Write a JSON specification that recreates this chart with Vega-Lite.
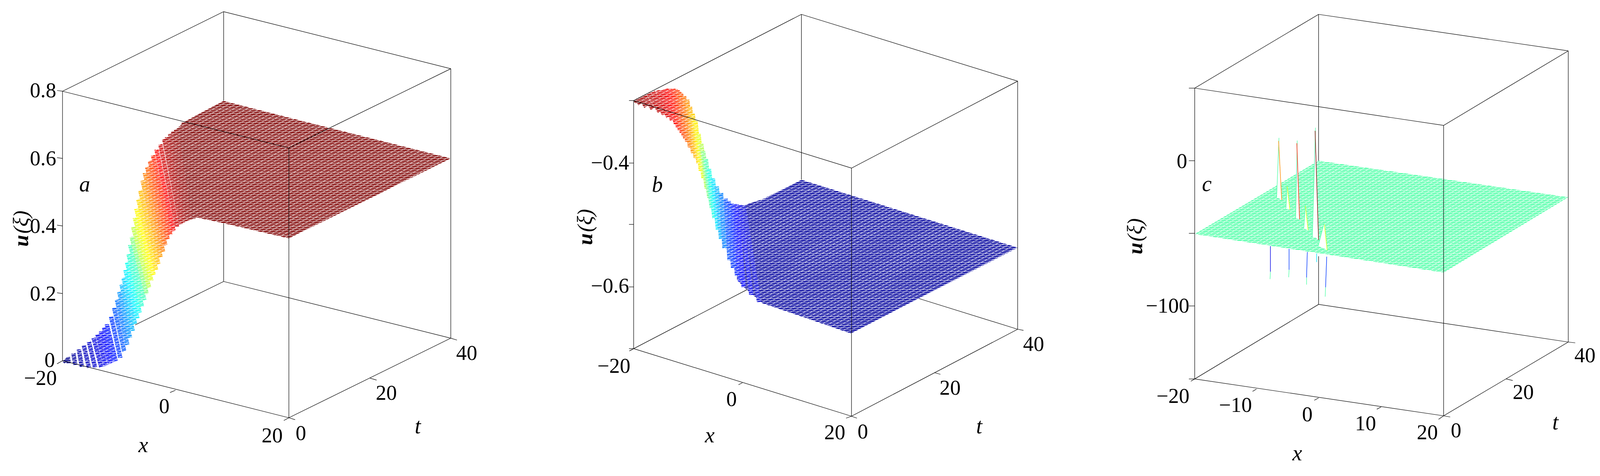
{
"$schema":"https://vega.github.io/schema/vega-lite/v6.json",
"width":4130,"height":1218,"padding":0,
"autosize":{"type":"none"},
"background":"white",
"config":{"view":{"stroke":null}},
"datasets":{
"sheets":[
{"id":"a","h":455,"v":332,"v2":520,"z":1},{"id":"a","h":473,"v":315,"v2":555,"z":1},{"id":"a","h":530,"v":284,"v2":565,"z":1},{"id":"a","h":576,"v":260,"v2":575,"z":1},{"id":"a","h":744,"v":303,"v2":614,"z":1},{"id":"a","h":1161,"v":408,"v2":408,"z":1},
{"id":"b","h":1898,"v":527,"v2":720,"z":0.03},{"id":"b","h":1915,"v":529,"v2":739,"z":0.03},{"id":"b","h":1964,"v":513,"v2":781,"z":0.03},{"id":"b","h":2064,"v":463,"v2":815,"z":0.03},{"id":"b","h":2192,"v":503,"v2":859,"z":0.03},{"id":"b","h":2621,"v":638,"v2":638,"z":0.03},
{"id":"c","h":3077,"v":603,"v2":603,"z":0.458},{"id":"c","h":3396,"v":414,"v2":652,"z":0.458},{"id":"c","h":3718,"v":461,"v2":702,"z":0.458},{"id":"c","h":4039,"v":508,"v2":508,"z":0.458}
],
"levels":[
{"h":165,"v":927,"h2":170,"v2":933,"z":0},{"h":175,"v":920,"h2":177,"v2":936,"z":0.015},{"h":189,"v":910,"h2":194,"v2":940,"z":0.03},{"h":203,"v":900,"h2":211,"v2":945,"z":0.045},{"h":216,"v":890,"h2":229,"v2":947,"z":0.06},{"h":229,"v":880,"h2":245,"v2":947,"z":0.075},{"h":241,"v":870,"h2":261,"v2":946,"z":0.09},{"h":251,"v":861,"h2":272,"v2":942,"z":0.105},{"h":260,"v":853,"h2":283,"v2":937,"z":0.12},{"h":268,"v":844,"h2":291,"v2":933,"z":0.135},{"h":275,"v":835,"h2":298,"v2":930,"z":0.15},{"h":286,"v":815,"h2":310,"v2":922,"z":0.18},{"h":294,"v":793,"h2":320,"v2":905,"z":0.21},{"h":301,"v":772,"h2":328,"v2":888,"z":0.24},{"h":307,"v":752,"h2":335,"v2":870,"z":0.27},{"h":313,"v":733,"h2":342,"v2":852,"z":0.3},{"h":318,"v":716,"h2":348,"v2":835,"z":0.33},{"h":323,"v":695,"h2":354,"v2":820,"z":0.36},{"h":327,"v":675,"h2":360,"v2":805,"z":0.39},{"h":331,"v":655,"h2":366,"v2":790,"z":0.42},{"h":335,"v":630,"h2":372,"v2":773,"z":0.44},{"h":339,"v":610,"h2":378,"v2":757,"z":0.5},{"h":343,"v":585,"h2":384,"v2":740,"z":0.56},{"h":347,"v":560,"h2":390,"v2":723,"z":0.6},{"h":351,"v":537,"h2":396,"v2":708,"z":0.63},{"h":356,"v":513,"h2":402,"v2":695,"z":0.66},{"h":361,"v":490,"h2":408,"v2":680,"z":0.69},{"h":367,"v":465,"h2":414,"v2":663,"z":0.72},{"h":373,"v":445,"h2":420,"v2":648,"z":0.75},{"h":379,"v":430,"h2":426,"v2":632,"z":0.78},{"h":386,"v":415,"h2":432,"v2":617,"z":0.81},{"h":394,"v":400,"h2":439,"v2":605,"z":0.84},{"h":403,"v":385,"h2":447,"v2":595,"z":0.88},{"h":413,"v":372,"h2":456,"v2":584,"z":0.92},{"h":423,"v":358,"h2":466,"v2":577,"z":0.95},{"h":430,"v":352,"h2":472,"v2":573,"z":0.96},{"h":438,"v":345,"h2":478,"v2":570,"z":0.97},{"h":446,"v":339,"h2":483,"v2":568,"z":0.98},{"h":453,"v":333,"h2":488,"v2":566,"z":0.985},{"h":473,"v":315,"h2":498,"v2":564,"z":1},
{"h":1636,"v":258,"h2":1642,"v2":263,"z":1},{"h":1640,"v":255,"h2":1649,"v2":268,"z":0.985},{"h":1649,"v":250,"h2":1664,"v2":275,"z":0.97},{"h":1659,"v":245,"h2":1681,"v2":281,"z":0.955},{"h":1670,"v":240,"h2":1699,"v2":288,"z":0.94},{"h":1682,"v":236,"h2":1710,"v2":295,"z":0.925},{"h":1694,"v":233,"h2":1721,"v2":302,"z":0.91},{"h":1705,"v":231,"h2":1731,"v2":310,"z":0.895},{"h":1716,"v":229,"h2":1741,"v2":319,"z":0.88},{"h":1725,"v":229,"h2":1746,"v2":327,"z":0.865},{"h":1734,"v":229,"h2":1751,"v2":335,"z":0.85},{"h":1740,"v":230,"h2":1756,"v2":342,"z":0.835},{"h":1745,"v":232,"h2":1761,"v2":350,"z":0.82},{"h":1749,"v":236,"h2":1765,"v2":357,"z":0.805},{"h":1754,"v":240,"h2":1770,"v2":365,"z":0.79},{"h":1762,"v":248,"h2":1777,"v2":380,"z":0.76},{"h":1770,"v":257,"h2":1785,"v2":395,"z":0.73},{"h":1777,"v":275,"h2":1792,"v2":408,"z":0.7},{"h":1784,"v":293,"h2":1799,"v2":420,"z":0.67},{"h":1791,"v":311,"h2":1805,"v2":440,"z":0.64},{"h":1799,"v":345,"h2":1812,"v2":460,"z":0.6},{"h":1806,"v":370,"h2":1820,"v2":485,"z":0.55},{"h":1811,"v":389,"h2":1827,"v2":510,"z":0.5},{"h":1818,"v":410,"h2":1833,"v2":535,"z":0.45},{"h":1826,"v":435,"h2":1840,"v2":562,"z":0.4},{"h":1836,"v":459,"h2":1849,"v2":591,"z":0.35},{"h":1846,"v":480,"h2":1857,"v2":615,"z":0.3},{"h":1857,"v":497,"h2":1866,"v2":640,"z":0.25},{"h":1869,"v":512,"h2":1879,"v2":670,"z":0.2},{"h":1877,"v":518,"h2":1888,"v2":690,"z":0.18},{"h":1885,"v":525,"h2":1898,"v2":710,"z":0.16},{"h":1892,"v":526,"h2":1906,"v2":725,"z":0.14},{"h":1898,"v":527,"h2":1915,"v2":739,"z":0.12},{"h":1906,"v":528,"h2":1935,"v2":760,"z":0.1},{"h":1915,"v":529,"h2":1955,"v2":778,"z":0.08}
],
"meshFlat":[
{"h":655,"v":0,"h2":655,"v2":1218},{"h":2130,"v":0,"h2":2130,"v2":1218},{"h":3560,"v":0,"h2":3560,"v2":1218}
],
"meshSlant":[
{"h":397,"v":106,"h2":923,"v2":1094},{"h":1872,"v":63,"h2":2388,"v2":1057},{"h":3274,"v":78,"h2":3846,"v2":1042}
],
"notches":[
{"id":"p1","h":3288,"v":508,"v2":508},{"id":"p1","h":3294,"v":355,"v2":511},{"id":"p1","h":3301,"v":515,"v2":515},
{"id":"p2","h":3337,"v":562,"v2":562},{"id":"p2","h":3341,"v":362,"v2":563},{"id":"p2","h":3347,"v":565,"v2":565},
{"id":"p3","h":3380,"v":610,"v2":610},{"id":"p3","h":3388,"v":329,"v2":612},{"id":"p3","h":3396,"v":618,"v2":618},
{"id":"p4","h":3312,"v":537,"v2":537},{"id":"p4","h":3315,"v":477,"v2":538},{"id":"p4","h":3322,"v":540,"v2":540},
{"id":"p5","h":3358,"v":587,"v2":587},{"id":"p5","h":3362,"v":528,"v2":590},{"id":"p5","h":3369,"v":593,"v2":593},
{"id":"p6","h":3395,"v":634,"v2":634},{"id":"p6","h":3410,"v":575,"v2":640},{"id":"p6","h":3418,"v":645,"v2":645}
],
"spikes":[
{"h":3294,"v":355,"h2":3288,"v2":508,"z":0.458},{"h":3293,"v":363,"h2":3301,"v2":515,"z":0.74},
{"h":3341,"v":362,"h2":3337,"v2":562,"z":0.458},{"h":3340,"v":369,"h2":3347,"v2":565,"z":0.85},
{"h":3388,"v":329,"h2":3380,"v2":610,"z":0.458},{"h":3387,"v":337,"h2":3396,"v2":618,"z":1},
{"h":3315,"v":477,"h2":3312,"v2":537,"z":0.458},{"h":3315,"v":480,"h2":3322,"v2":540,"z":0.6},
{"h":3362,"v":528,"h2":3358,"v2":587,"z":0.458},{"h":3362,"v":530,"h2":3369,"v2":593,"z":0.6},
{"h":3410,"v":575,"h2":3395,"v2":634,"z":0.458},{"h":3411,"v":578,"h2":3418,"v2":645,"z":0.6},
{"h":3272,"v":634,"h2":3272,"v2":700,"z":0.1},{"h":3272,"v":700,"h2":3271,"v2":719,"z":0.458},
{"h":3320,"v":641,"h2":3320,"v2":695,"z":0.18},{"h":3320,"v":695,"h2":3319,"v2":714,"z":0.458},
{"h":3367,"v":649,"h2":3365,"v2":715,"z":0.18},{"h":3365,"v":715,"h2":3365,"v2":733,"z":0.458},
{"h":3391,"v":653,"h2":3391,"v2":675,"z":0.35},
{"h":3417,"v":661,"h2":3414,"v2":740,"z":0.18},{"h":3414,"v":740,"h2":3413,"v2":764,"z":0.458}
],
"frame":[
{"h":161,"v":235,"h2":161,"v2":929},{"h":576,"v":30,"h2":576,"v2":260},{"h":576,"v":575,"h2":576,"v2":725},{"h":1161,"v":177,"h2":1161,"v2":871},{"h":744,"v":381,"h2":744,"v2":1076},
{"h":161,"v":235,"h2":576,"v2":30},{"h":576,"v":30,"h2":1161,"v2":177},{"h":1161,"v":177,"h2":744,"v2":381},{"h":744,"v":381,"h2":161,"v2":235},
{"h":348,"v":837,"h2":576,"v2":725},{"h":576,"v":725,"h2":1161,"v2":871},{"h":1161,"v":871,"h2":744,"v2":1076},{"h":744,"v":1076,"h2":161,"v2":929},
{"h":147,"v":233,"h2":161,"v2":235},{"h":147,"v":406,"h2":161,"v2":408},{"h":147,"v":580,"h2":161,"v2":582},{"h":147,"v":754,"h2":161,"v2":756},{"h":147,"v":937,"h2":161,"v2":929},{"h":438,"v":1011,"h2":452,"v2":1005},{"h":731,"v":1083,"h2":744,"v2":1076},{"h":744,"v":1076,"h2":760,"v2":1081},{"h":953,"v":974,"h2":970,"v2":979},{"h":1161,"v":871,"h2":1177,"v2":876},
{"h":1632,"v":259,"h2":1632,"v2":898},{"h":2064,"v":37,"h2":2064,"v2":463},{"h":2621,"v":209,"h2":2621,"v2":848},{"h":2193,"v":433,"h2":2193,"v2":1072},
{"h":1632,"v":259,"h2":2064,"v2":37},{"h":2064,"v":37,"h2":2621,"v2":209},{"h":2621,"v":209,"h2":2193,"v2":433},{"h":2193,"v":433,"h2":1632,"v2":259},
{"h":1632,"v":898,"h2":1924,"v2":746},{"h":2367,"v":769,"h2":2621,"v2":848},{"h":2621,"v":848,"h2":2193,"v2":1072},{"h":2193,"v":1072,"h2":1632,"v2":898},
{"h":1620,"v":259,"h2":1632,"v2":259},{"h":1620,"v":420,"h2":1632,"v2":420},{"h":1620,"v":578,"h2":1632,"v2":578},{"h":1620,"v":739,"h2":1632,"v2":739},{"h":1620,"v":898,"h2":1632,"v2":898},{"h":1621,"v":904,"h2":1632,"v2":898},{"h":1902,"v":991,"h2":1912,"v2":986},{"h":2179,"v":1077,"h2":2193,"v2":1072},{"h":2193,"v":1072,"h2":2207,"v2":1077},{"h":2407,"v":960,"h2":2422,"v2":964},{"h":2621,"v":848,"h2":2636,"v2":851},
{"h":3077,"v":227,"h2":3077,"v2":976},{"h":3396,"v":37,"h2":3396,"v2":414},{"h":3396,"v":660,"h2":3396,"v2":784},{"h":4039,"v":131,"h2":4039,"v2":881},{"h":3718,"v":323,"h2":3718,"v2":1071},
{"h":3077,"v":227,"h2":3396,"v2":37},{"h":3396,"v":37,"h2":4039,"v2":131},{"h":4039,"v":131,"h2":3718,"v2":323},{"h":3718,"v":323,"h2":3077,"v2":227},
{"h":3077,"v":976,"h2":3396,"v2":784},{"h":3396,"v":784,"h2":4039,"v2":881},{"h":4039,"v":881,"h2":3718,"v2":1071},{"h":3718,"v":1071,"h2":3077,"v2":976},
{"h":3062,"v":227,"h2":3077,"v2":227},{"h":3062,"v":414,"h2":3077,"v2":414},{"h":3062,"v":601,"h2":3077,"v2":601},{"h":3062,"v":788,"h2":3077,"v2":788},{"h":3062,"v":976,"h2":3077,"v2":976},{"h":3067,"v":982,"h2":3077,"v2":976},{"h":3226,"v":1008,"h2":3236,"v2":1002},{"h":3385,"v":1031,"h2":3396,"v2":1025},{"h":3546,"v":1054,"h2":3557,"v2":1048},{"h":3705,"v":1080,"h2":3718,"v2":1071},{"h":3718,"v":1071,"h2":3735,"v2":1074},{"h":3879,"v":976,"h2":3896,"v2":980},{"h":4039,"v":881,"h2":4057,"v2":883}
],
"numbers":[
{"h":111,"v":251,"label":"0.8"},{"h":111,"v":426,"label":"0.6"},{"h":111,"v":600,"label":"0.4"},{"h":111,"v":774,"label":"0.2"},{"h":128,"v":945,"label":"0"},{"h":104,"v":991,"label":"−20"},{"h":423,"v":1064,"label":"0"},{"h":701,"v":1139,"label":"20"},{"h":775,"v":1133,"label":"0"},{"h":995,"v":1030,"label":"20"},{"h":1202,"v":927,"label":"40"},
{"h":1571,"v":437,"label":"−0.4"},{"h":1571,"v":754,"label":"−0.6"},{"h":1581,"v":960,"label":"−20"},{"h":1884,"v":1046,"label":"0"},{"h":2150,"v":1131,"label":"20"},{"h":2222,"v":1129,"label":"0"},{"h":2447,"v":1017,"label":"20"},{"h":2662,"v":904,"label":"40"},
{"h":3044,"v":433,"label":"0"},{"h":3007,"v":805,"label":"−100"},{"h":3021,"v":1038,"label":"−20"},{"h":3182,"v":1061,"label":"−10"},{"h":3367,"v":1085,"label":"0"},{"h":3517,"v":1108,"label":"10"},{"h":3676,"v":1131,"label":"20"},{"h":3750,"v":1126,"label":"0"},{"h":3923,"v":1028,"label":"20"},{"h":4082,"v":933,"label":"40"}
],
"names":[
{"h":1076,"v":1116,"label":"t"},{"h":369,"v":1165,"label":"x"},{"h":218,"v":493,"label":"a"},
{"h":2522,"v":1116,"label":"t"},{"h":1828,"v":1139,"label":"x"},{"h":1693,"v":494,"label":"b"},
{"h":4006,"v":1106,"label":"t"},{"h":3341,"v":1186,"label":"x"},{"h":3108,"v":492,"label":"c"}
],
"yvars":[{"h":72,"v":620,"label":"u"},{"h":1525,"v":616,"label":"u"},{"h":2942,"v":640,"label":"u"}],
"yargs":[{"h":72,"v":572,"label":"(ξ)"},{"h":1525,"v":568,"label":"(ξ)"},{"h":2942,"v":592,"label":"(ξ)"}]
},
"encoding":{
"x":{"field":"h","type":"quantitative","scale":{"domain":[0,4155],"nice":false,"zero":false},"axis":null},
"y":{"field":"v","type":"quantitative","scale":{"domain":[1226,0],"nice":false,"zero":false},"axis":null}
},
"layer":[
{"data":{"name":"sheets"},"mark":{"type":"area","orient":"vertical"},
 "encoding":{"y2":{"field":"v2"},"detail":{"field":"id"},
 "color":{"field":"z","type":"quantitative","legend":null,"scale":{"domain":[0,0.125,0.375,0.625,0.875,1],"range":["#000080","#0000ff","#00ffff","#ffff00","#ff0000","#800000"],"interpolate":"rgb"}}}},
{"data":{"name":"levels"},"mark":{"type":"rule","strokeWidth":11,"strokeCap":"butt"},
 "encoding":{"x2":{"field":"h2"},"y2":{"field":"v2"},
 "color":{"field":"z","type":"quantitative","legend":null,"scale":{"domain":[0,0.125,0.375,0.625,0.875,1],"range":["#000080","#0000ff","#00ffff","#ffff00","#ff0000","#800000"],"interpolate":"rgb"}}}},
{"data":{"name":"meshFlat"},"mark":{"type":"rule","color":"white","strokeWidth":1150,"strokeDash":[1.3,3.3]},
 "encoding":{"x2":{"field":"h2"},"y2":{"field":"v2"}}},
{"data":{"name":"meshSlant"},"mark":{"type":"rule","color":"white","strokeWidth":1150,"strokeDash":[1,7]},
 "encoding":{"x2":{"field":"h2"},"y2":{"field":"v2"}}},
{"data":{"name":"notches"},"mark":{"type":"area","orient":"vertical","color":"white"},
 "encoding":{"y2":{"field":"v2"},"detail":{"field":"id"}}},
{"data":{"name":"spikes"},"mark":{"type":"rule","strokeWidth":1.4},
 "encoding":{"x2":{"field":"h2"},"y2":{"field":"v2"},
 "color":{"field":"z","type":"quantitative","legend":null,"scale":{"domain":[0,0.125,0.375,0.625,0.875,1],"range":["#000080","#0000ff","#00ffff","#ffff00","#ff0000","#800000"],"interpolate":"rgb"}}}},
{"data":{"name":"frame"},"mark":{"type":"rule","color":"black","strokeWidth":1.2},
 "encoding":{"x2":{"field":"h2"},"y2":{"field":"v2"}}},
{"data":{"name":"numbers"},"mark":{"type":"text","font":"Liberation Serif","fontSize":54,"align":"center","baseline":"alphabetic","color":"black"},
 "encoding":{"text":{"field":"label"}}},
{"data":{"name":"names"},"mark":{"type":"text","font":"Liberation Serif","fontStyle":"italic","fontSize":56,"align":"center","baseline":"alphabetic","color":"black"},
 "encoding":{"text":{"field":"label"}}},
{"data":{"name":"yvars"},"mark":{"type":"text","font":"Liberation Serif","fontStyle":"italic","fontWeight":"bold","fontSize":54,"angle":270,"align":"center","baseline":"alphabetic","color":"black"},
 "encoding":{"text":{"field":"label"}}},
{"data":{"name":"yargs"},"mark":{"type":"text","font":"Liberation Serif","fontStyle":"italic","fontSize":54,"angle":270,"align":"center","baseline":"alphabetic","color":"black"},
 "encoding":{"text":{"field":"label"}}}
]
}
